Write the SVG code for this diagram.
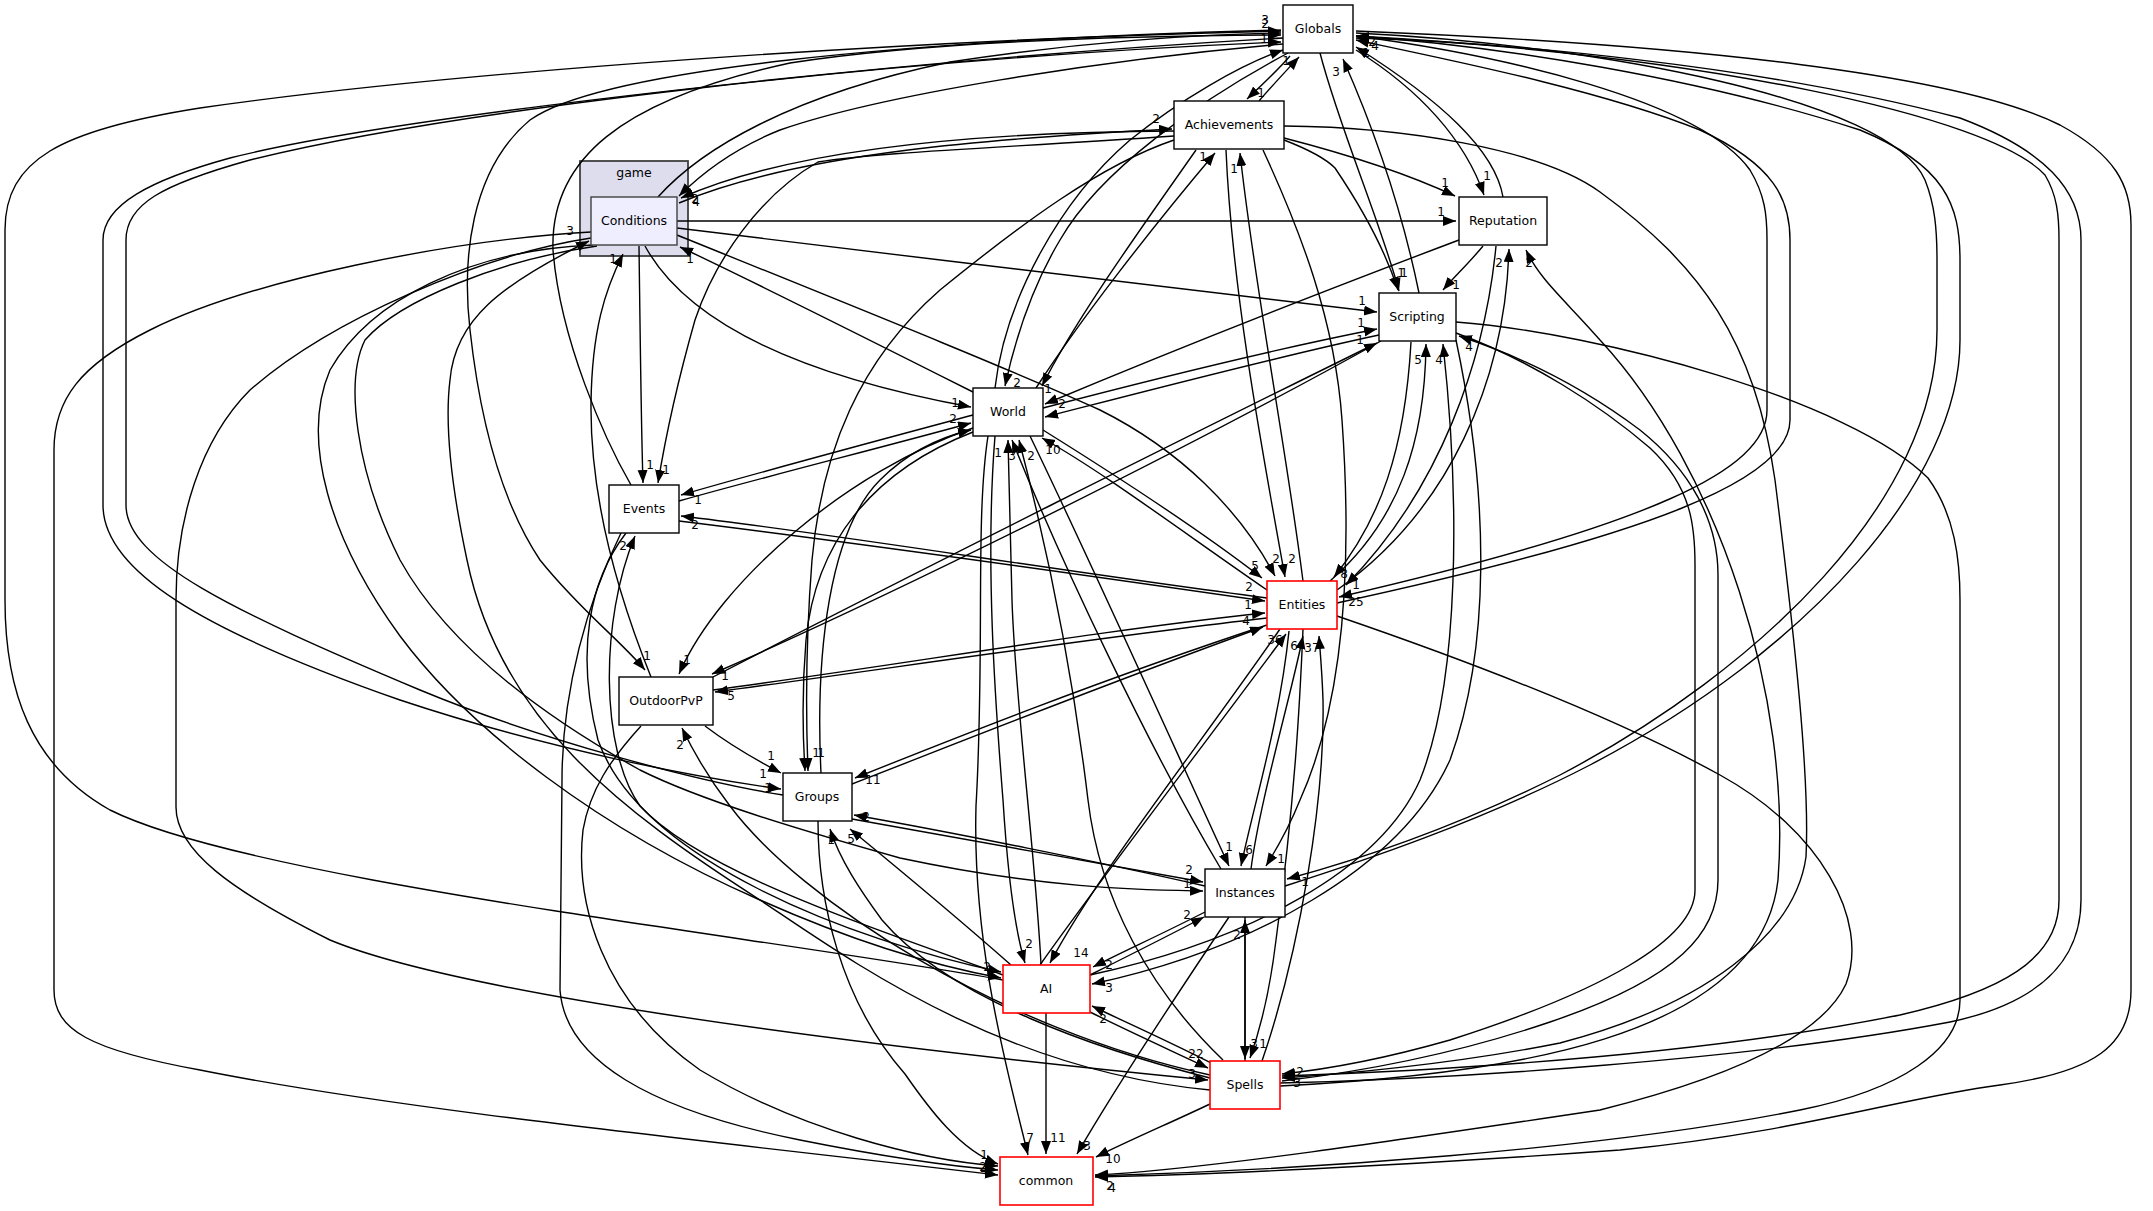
<svg xmlns="http://www.w3.org/2000/svg" width="2153" height="1211" viewBox="0 0 2153 1211">
<style>
.e{fill:none;stroke:#000;stroke-width:1.4}
.n rect{fill:#fff;stroke:#000;stroke-width:1.4}
.r rect{fill:#fff;stroke:#ff0000;stroke-width:1.6}
text{font-family:"DejaVu Sans","Liberation Sans",sans-serif;font-size:12px;fill:#000}
.t{text-anchor:middle;font-size:12.5px}
.l{text-anchor:middle;font-size:12px}
</style>
<defs>
<marker id="ah" markerWidth="14" markerHeight="11" refX="13" refY="5" orient="auto" markerUnits="userSpaceOnUse"><path d="M0,0 L13,5 L0,10 z" fill="#000"/></marker>
</defs>
<rect width="2153" height="1211" fill="#fff"/>
<g id="cluster-game"><rect x="580" y="161" width="108" height="95" fill="#ddddee" stroke="#404040" stroke-width="1.8"/><text class="t" x="634" y="177">game</text></g>
<g id="edges">
<path class="e" marker-end="url(#ah)" d="M1003,980 C750,935 250,880 110,810 C30,765 5,690 5,600 L5,230 C5,160 60,130 200,108 C450,72 900,40 1281,31"/>
<path class="e" marker-end="url(#ah)" d="M1283,38 C900,60 400,115 230,158 C150,180 103,205 103,240 L103,505 C103,570 200,630 400,700 C550,750 700,778 781,789"/>
<path class="e" marker-end="url(#ah)" d="M783,795 C700,782 540,740 420,690 C230,610 126,560 126,505 L126,240 C126,205 160,185 250,160 C450,110 900,58 1281,42"/>
<path class="e" marker-end="url(#ah)" d="M658,197 C700,150 790,95 950,62 C1080,42 1200,34 1281,33"/>
<path class="e" marker-end="url(#ah)" d="M1283,44 C1100,60 880,95 780,130 C730,150 700,175 679,196"/>
<path class="e" marker-end="url(#ah)" d="M1174,131 C1000,132 800,145 681,198"/>
<path class="e" marker-end="url(#ah)" d="M679,203 C800,152 1000,138 1172,129"/>
<path class="e" marker-end="url(#ah)" d="M631,485 C605,440 560,340 553,250 C550,160 620,100 790,63 C920,43 1100,36 1281,35"/>
<path class="e" marker-end="url(#ah)" d="M1281,30 C900,40 600,70 530,120 C470,170 462,260 470,330 C480,420 500,500 540,560 C580,610 620,640 645,670"/>
<path class="e" marker-end="url(#ah)" d="M995,388 C1005,300 1060,200 1130,140 C1180,100 1240,65 1283,50"/>
<path class="e" marker-end="url(#ah)" d="M1288,53 C1200,100 1100,170 1060,240 C1030,290 1015,340 1005,386"/>
<path class="e" marker-end="url(#ah)" d="M1503,197 C1495,150 1440,100 1356,47"/>
<path class="e" marker-end="url(#ah)" d="M1356,50 C1420,90 1465,140 1484,195"/>
<path class="e" marker-end="url(#ah)" d="M1356,36 C1500,55 1700,100 1750,170 C1765,195 1767,215 1767,240 L1767,410 C1767,470 1650,525 1339,597"/>
<path class="e" marker-end="url(#ah)" d="M1337,603 C1650,535 1790,480 1790,420 L1790,240 C1790,200 1775,165 1700,130 C1600,90 1450,60 1356,40"/>
<path class="e" marker-end="url(#ah)" d="M1356,33 C1600,45 1890,100 1925,180 C1935,205 1937,230 1937,260 L1937,330 C1937,500 1760,670 1560,775 C1450,830 1350,862 1287,879"/>
<path class="e" marker-end="url(#ah)" d="M1285,886 C1360,862 1480,822 1590,765 C1810,650 1960,480 1960,340 L1960,260 C1960,205 1945,165 1860,130 C1700,78 1500,46 1356,36"/>
<path class="e" marker-end="url(#ah)" d="M1356,36 C1700,55 1990,115 2045,175 C2057,195 2059,215 2059,240 L2059,900 C2059,960 2000,992 1900,1015 C1700,1055 1450,1070 1282,1076"/>
<path class="e" marker-end="url(#ah)" d="M1280,1083 C1450,1079 1750,1060 1950,1022 C2040,1003 2081,960 2081,900 L2081,240 C2081,190 2045,150 1960,118 C1760,65 1500,42 1356,38"/>
<path class="e" marker-end="url(#ah)" d="M1356,31 C1700,45 1960,75 2060,125 C2115,155 2131,185 2131,225 L2131,990 C2131,1045 2095,1072 2000,1085 C1900,1098 1800,1132 1620,1150 C1400,1166 1200,1175 1095,1177"/>
<path class="e" marker-end="url(#ah)" d="M1290,56 C1278,70 1262,85 1247,99"/>
<path class="e" marker-end="url(#ah)" d="M1259,101 C1270,88 1285,72 1299,57"/>
<path class="e" marker-end="url(#ah)" d="M1284,138 C1350,155 1410,175 1455,196"/>
<path class="e" marker-end="url(#ah)" d="M1284,140 C1310,150 1325,158 1335,168 C1360,205 1385,250 1398,290"/>
<path class="e" marker-end="url(#ah)" d="M1284,126 C1400,127 1540,148 1600,192 C1700,265 1755,340 1775,480 C1795,640 1810,780 1806,857 C1795,935 1705,1005 1560,1043 C1450,1065 1330,1075 1282,1078"/>
<path class="e" marker-end="url(#ah)" d="M1263,150 C1300,230 1335,320 1342,420 C1352,560 1345,700 1300,800 C1288,830 1276,850 1266,866"/>
<path class="e" marker-end="url(#ah)" d="M1226,150 C1232,290 1262,450 1285,577"/>
<path class="e" marker-end="url(#ah)" d="M1303,581 C1285,440 1255,290 1240,153"/>
<path class="e" marker-end="url(#ah)" d="M1036,388 C1080,320 1150,230 1215,153"/>
<path class="e" marker-end="url(#ah)" d="M1196,150 C1140,230 1075,320 1042,386"/>
<path class="e" marker-end="url(#ah)" d="M1174,140 C1100,165 1020,225 940,290 C860,360 822,450 812,560 C805,650 806,720 808,771"/>
<path class="e" marker-end="url(#ah)" d="M1174,136 C1000,148 880,152 818,162 C760,195 715,260 695,320 C678,380 665,440 658,483"/>
<path class="e" marker-end="url(#ah)" d="M1483,246 C1470,262 1455,276 1443,290"/>
<path class="e" marker-end="url(#ah)" d="M1459,240 C1300,300 1150,360 1045,404"/>
<path class="e" marker-end="url(#ah)" d="M1496,246 C1485,360 1440,490 1346,585"/>
<path class="e" marker-end="url(#ah)" d="M1337,590 C1450,510 1505,380 1509,249"/>
<path class="e" marker-end="url(#ah)" d="M1280,1086 C1500,1075 1760,1040 1778,880 C1792,700 1720,470 1600,340 C1565,300 1540,280 1526,250"/>
<path class="e" marker-end="url(#ah)" d="M1320,53 C1340,130 1380,220 1399,291"/>
<path class="e" marker-end="url(#ah)" d="M1419,293 C1400,200 1370,120 1343,59"/>
<path class="e" marker-end="url(#ah)" d="M677,228 C900,255 1200,292 1377,312"/>
<path class="e" marker-end="url(#ah)" d="M1043,408 C1150,380 1280,348 1377,329"/>
<path class="e" marker-end="url(#ah)" d="M1379,335 C1280,356 1150,390 1045,417"/>
<path class="e" marker-end="url(#ah)" d="M713,677 C900,580 1200,430 1377,343"/>
<path class="e" marker-end="url(#ah)" d="M1381,341 C1200,442 900,592 712,674"/>
<path class="e" marker-end="url(#ah)" d="M1411,342 C1405,450 1380,520 1334,577"/>
<path class="e" marker-end="url(#ah)" d="M1330,581 C1400,520 1425,440 1426,344"/>
<path class="e" marker-end="url(#ah)" d="M1090,975 C1250,940 1380,870 1420,780 C1460,680 1460,500 1443,344"/>
<path class="e" marker-end="url(#ah)" d="M1456,340 C1490,500 1490,650 1450,760 C1400,870 1250,950 1092,984"/>
<path class="e" marker-end="url(#ah)" d="M1456,333 C1530,360 1600,405 1650,448 C1693,488 1695,530 1695,565 L1695,890 C1695,940 1600,992 1450,1040 C1380,1060 1320,1070 1282,1074"/>
<path class="e" marker-end="url(#ah)" d="M1282,1081 C1350,1073 1450,1056 1550,1022 C1680,978 1718,932 1718,880 L1718,575 C1718,520 1690,470 1640,430 C1580,385 1520,356 1459,336"/>
<path class="e" marker-end="url(#ah)" d="M1456,322 C1600,333 1850,400 1928,478 C1955,515 1960,560 1960,600 L1960,1000 C1960,1050 1900,1090 1800,1110 C1600,1150 1300,1170 1095,1176"/>
<path class="e" marker-end="url(#ah)" d="M645,246 C680,310 770,370 971,407"/>
<path class="e" marker-end="url(#ah)" d="M973,392 C850,330 750,280 680,247"/>
<path class="e" marker-end="url(#ah)" d="M973,415 C880,440 760,472 681,495"/>
<path class="e" marker-end="url(#ah)" d="M679,501 C760,478 880,448 971,423"/>
<path class="e" marker-end="url(#ah)" d="M973,428 C850,470 720,580 679,674"/>
<path class="e" marker-end="url(#ah)" d="M973,432 C870,472 815,545 806,640 C801,700 803,740 805,771"/>
<path class="e" marker-end="url(#ah)" d="M821,773 C815,650 830,530 880,480 C910,450 945,436 971,430"/>
<path class="e" marker-end="url(#ah)" d="M988,436 C975,520 985,650 976,806 C972,950 1010,1080 1028,1155"/>
<path class="e" marker-end="url(#ah)" d="M995,436 C985,560 995,700 1003,800 C1008,880 1015,930 1025,963"/>
<path class="e" marker-end="url(#ah)" d="M1041,964 C1035,850 1015,700 1012,600 C1010,520 1009,480 1008,440"/>
<path class="e" marker-end="url(#ah)" d="M1223,1060 C1150,990 1100,900 1088,800 C1070,650 1040,520 1019,440"/>
<path class="e" marker-end="url(#ah)" d="M1267,590 C1180,530 1100,470 1042,438"/>
<path class="e" marker-end="url(#ah)" d="M1043,430 C1120,478 1200,530 1262,578"/>
<path class="e" marker-end="url(#ah)" d="M1030,436 C1090,560 1180,760 1229,866"/>
<path class="e" marker-end="url(#ah)" d="M1221,869 C1150,750 1060,560 1012,440"/>
<path class="e" marker-end="url(#ah)" d="M1267,598 C1050,570 850,536 681,516"/>
<path class="e" marker-end="url(#ah)" d="M679,521 C850,542 1050,570 1265,601"/>
<path class="e" marker-end="url(#ah)" d="M1003,975 C850,920 700,870 640,806 C600,750 600,620 635,536"/>
<path class="e" marker-end="url(#ah)" d="M626,533 C590,580 575,650 598,740 C640,860 850,940 1001,972"/>
<path class="e" marker-end="url(#ah)" d="M621,533 C588,600 562,690 562,780 L560,990 C565,1060 650,1110 800,1140 C900,1160 960,1167 998,1170"/>
<path class="e" marker-end="url(#ah)" d="M641,726 C610,760 590,790 583,830 C575,900 600,1000 700,1070 C800,1130 920,1160 998,1166"/>
<path class="e" marker-end="url(#ah)" d="M705,726 C730,745 760,762 781,773"/>
<path class="e" marker-end="url(#ah)" d="M1210,1075 C1000,1030 800,900 730,806 C710,780 695,755 682,728"/>
<path class="e" marker-end="url(#ah)" d="M713,690 C900,665 1100,630 1265,613"/>
<path class="e" marker-end="url(#ah)" d="M1267,618 C1100,637 900,667 715,692"/>
<path class="e" marker-end="url(#ah)" d="M651,677 C620,600 590,500 591,403 C592,330 605,290 623,254"/>
<path class="e" marker-end="url(#ah)" d="M1267,625 C1100,680 950,740 855,778"/>
<path class="e" marker-end="url(#ah)" d="M852,784 C950,746 1100,686 1263,627"/>
<path class="e" marker-end="url(#ah)" d="M1205,886 C1100,862 950,832 854,815"/>
<path class="e" marker-end="url(#ah)" d="M852,819 C950,836 1100,864 1203,882"/>
<path class="e" marker-end="url(#ah)" d="M1210,1078 C1100,1050 950,1000 882,920 C860,890 840,860 830,829"/>
<path class="e" marker-end="url(#ah)" d="M1011,965 C960,920 900,870 850,829"/>
<path class="e" marker-end="url(#ah)" d="M818,821 C818,900 840,1000 905,1074 C930,1110 960,1150 998,1164"/>
<path class="e" marker-end="url(#ah)" d="M591,232 C450,240 250,280 150,330 C80,365 54,400 54,450 L54,990 C54,1030 90,1050 200,1070 C400,1110 700,1140 998,1175"/>
<path class="e" marker-end="url(#ah)" d="M591,238 C480,255 330,320 250,390 C200,440 176,520 176,600 L176,807 C176,850 230,890 330,940 C450,990 800,1040 1208,1080"/>
<path class="e" marker-end="url(#ah)" d="M593,245 C470,250 370,300 330,370 C300,440 330,540 400,636 C470,730 600,830 760,900 C850,940 930,965 1001,978"/>
<path class="e" marker-end="url(#ah)" d="M597,246 C500,260 400,300 365,340 C345,380 355,470 400,560 C450,650 550,720 640,770 C700,800 800,830 900,858 C1050,890 1150,890 1203,891"/>
<path class="e" marker-end="url(#ah)" d="M1210,1090 C1000,1070 850,960 760,900 C620,810 500,720 467,560 C450,480 445,420 450,380 C455,320 500,285 589,241"/>
<path class="e" marker-end="url(#ah)" d="M1205,912 C1160,935 1120,953 1093,967"/>
<path class="e" marker-end="url(#ah)" d="M1090,975 C1130,955 1170,935 1204,917"/>
<path class="e" marker-end="url(#ah)" d="M1229,917 C1190,975 1120,1080 1077,1154"/>
<path class="e" marker-end="url(#ah)" d="M1245,1061 L1245,920"/>
<path class="e" marker-end="url(#ah)" d="M1245,917 L1245,1059"/>
<path class="e" marker-end="url(#ah)" d="M1303,629 C1300,700 1295,800 1276,940 C1270,990 1260,1030 1250,1058"/>
<path class="e" marker-end="url(#ah)" d="M1262,1061 C1300,950 1325,800 1323,700 C1322,670 1320,650 1319,636"/>
<path class="e" marker-end="url(#ah)" d="M1251,869 C1260,800 1290,700 1303,636"/>
<path class="e" marker-end="url(#ah)" d="M1289,631 C1280,720 1255,800 1241,866"/>
<path class="e" marker-end="url(#ah)" d="M1040,965 C1100,880 1200,750 1286,634"/>
<path class="e" marker-end="url(#ah)" d="M1280,629 C1200,745 1100,870 1050,963"/>
<path class="e" marker-end="url(#ah)" d="M1046,1013 L1046,1154"/>
<path class="e" marker-end="url(#ah)" d="M1213,1064 C1170,1042 1125,1022 1092,1006"/>
<path class="e" marker-end="url(#ah)" d="M1090,1012 C1130,1032 1170,1050 1208,1068"/>
<path class="e" marker-end="url(#ah)" d="M1210,1104 C1170,1123 1130,1140 1096,1157"/>
<path class="e" marker-end="url(#ah)" d="M1337,616 C1480,665 1620,720 1720,775 C1820,830 1870,920 1846,984 C1820,1040 1720,1080 1600,1110 C1400,1140 1200,1170 1095,1175"/>
<path class="e" marker-end="url(#ah)" d="M677,221 L1456,221"/>
<path class="e" marker-end="url(#ah)" d="M639,246 C640,320 641,420 643,483"/>
<path class="e" marker-end="url(#ah)" d="M677,235 C850,305 1000,365 1100,410 C1180,450 1240,510 1275,576"/>
<g id="edge-labels">
<text class="l" x="1265" y="24">3</text><text class="l" x="1265" y="28">2</text><text class="l" x="1264" y="43">1</text>
<text class="l" x="1372" y="46">2</text><text class="l" x="1375" y="50">4</text><text class="l" x="1366" y="57">1</text>
<text class="l" x="1336" y="76">3</text><text class="l" x="1286" y="65">1</text><text class="l" x="1261" y="97">1</text>
<text class="l" x="1156" y="123">2</text><text class="l" x="1203" y="161">1</text><text class="l" x="1234" y="173">1</text>
<text class="l" x="695" y="203">2</text><text class="l" x="696" y="206">4</text>
<text class="l" x="570" y="235">3</text><text class="l" x="613" y="263">1</text><text class="l" x="690" y="263">1</text>
<text class="l" x="1487" y="180">1</text><text class="l" x="1445" y="187">1</text><text class="l" x="1441" y="216">1</text>
<text class="l" x="1499" y="267">2</text><text class="l" x="1529" y="267">2</text>
<text class="l" x="1401" y="277">1</text><text class="l" x="1404" y="277">1</text><text class="l" x="1456" y="289">1</text>
<text class="l" x="1362" y="305">1</text><text class="l" x="1361" y="327">1</text><text class="l" x="1360" y="344">1</text>
<text class="l" x="1418" y="364">5</text><text class="l" x="1439" y="364">4</text><text class="l" x="1469" y="351">4</text>
<text class="l" x="1017" y="387">2</text><text class="l" x="1048" y="393">1</text><text class="l" x="1062" y="408">2</text>
<text class="l" x="955" y="407">1</text><text class="l" x="953" y="423">2</text>
<text class="l" x="998" y="457">1</text><text class="l" x="1012" y="460">3</text><text class="l" x="1031" y="460">2</text><text class="l" x="1053" y="454">10</text>
<text class="l" x="650" y="469">1</text><text class="l" x="666" y="474">1</text><text class="l" x="698" y="504">1</text><text class="l" x="695" y="529">2</text><text class="l" x="623" y="550">2</text>
<text class="l" x="1255" y="570">5</text><text class="l" x="1276" y="563">2</text><text class="l" x="1292" y="563">2</text><text class="l" x="1344" y="578">8</text><text class="l" x="1356" y="589">1</text><text class="l" x="1356" y="606">25</text>
<text class="l" x="1249" y="591">2</text><text class="l" x="1248" y="609">1</text><text class="l" x="1246" y="625">4</text>
<text class="l" x="1275" y="644">36</text><text class="l" x="1294" y="650">6</text><text class="l" x="1312" y="652">37</text>
<text class="l" x="647" y="660">1</text><text class="l" x="687" y="664">1</text><text class="l" x="725" y="680">1</text><text class="l" x="731" y="700">5</text><text class="l" x="680" y="749">2</text>
<text class="l" x="771" y="760">1</text><text class="l" x="816" y="757">1</text><text class="l" x="821" y="757">1</text><text class="l" x="763" y="778">1</text><text class="l" x="768" y="792">1</text><text class="l" x="873" y="784">11</text>
<text class="l" x="866" y="821">2</text><text class="l" x="831" y="844">1</text><text class="l" x="851" y="843">5</text>
<text class="l" x="1229" y="851">1</text><text class="l" x="1249" y="854">6</text><text class="l" x="1281" y="863">1</text>
<text class="l" x="1189" y="874">2</text><text class="l" x="1187" y="888">1</text><text class="l" x="1305" y="886">1</text>
<text class="l" x="1187" y="919">2</text><text class="l" x="1237" y="939">2</text>
<text class="l" x="1029" y="948">2</text><text class="l" x="1081" y="957">14</text><text class="l" x="1109" y="969">2</text><text class="l" x="987" y="971">2</text><text class="l" x="1109" y="992">3</text>
<text class="l" x="1103" y="1023">2</text><text class="l" x="1196" y="1058">22</text><text class="l" x="1254" y="1048">3</text><text class="l" x="1263" y="1048">1</text>
<text class="l" x="1192" y="1078">3</text><text class="l" x="1300" y="1076">2</text><text class="l" x="1297" y="1087">3</text>
<text class="l" x="1030" y="1142">7</text><text class="l" x="1058" y="1142">11</text><text class="l" x="1087" y="1150">3</text><text class="l" x="1113" y="1163">10</text>
<text class="l" x="984" y="1159">1</text><text class="l" x="983" y="1171">2</text><text class="l" x="984" y="1174">4</text>
<text class="l" x="1110" y="1190">2</text><text class="l" x="1112" y="1192">4</text>
</g>
</g>
<g id="node-Globals" class="n"><rect x="1283" y="5" width="70" height="48"/><text class="t" x="1318" y="33">Globals</text></g>
<g id="node-Achievements" class="n"><rect x="1174" y="101" width="110" height="48"/><text class="t" x="1229" y="129">Achievements</text></g>
<g id="node-Reputation" class="n"><rect x="1459" y="197" width="88" height="48"/><text class="t" x="1503" y="225">Reputation</text></g>
<g id="node-Scripting" class="n"><rect x="1379" y="293" width="77" height="48"/><text class="t" x="1417" y="321">Scripting</text></g>
<g id="node-Conditions"><rect x="591" y="197" width="86" height="48" fill="#eeeeff" stroke="#404040" stroke-width="1.4"/><text class="t" x="634" y="225">Conditions</text></g>
<g id="node-World" class="n"><rect x="973" y="388" width="70" height="48"/><text class="t" x="1008" y="416">World</text></g>
<g id="node-Events" class="n"><rect x="609" y="485" width="70" height="48"/><text class="t" x="644" y="513">Events</text></g>
<g id="node-OutdoorPvP" class="n"><rect x="619" y="677" width="94" height="48"/><text class="t" x="666" y="705">OutdoorPvP</text></g>
<g id="node-Groups" class="n"><rect x="783" y="773" width="69" height="48"/><text class="t" x="817" y="801">Groups</text></g>
<g id="node-Entities" class="r"><rect x="1267" y="581" width="70" height="48"/><text class="t" x="1302" y="609">Entities</text></g>
<g id="node-Instances" class="n"><rect x="1205" y="869" width="80" height="48"/><text class="t" x="1245" y="897">Instances</text></g>
<g id="node-AI" class="r"><rect x="1003" y="965" width="87" height="48"/><text class="t" x="1046" y="993">AI</text></g>
<g id="node-Spells" class="r"><rect x="1210" y="1061" width="70" height="48"/><text class="t" x="1245" y="1089">Spells</text></g>
<g id="node-common" class="r"><rect x="1000" y="1157" width="93" height="48"/><text class="t" x="1046" y="1185">common</text></g>
</svg>
